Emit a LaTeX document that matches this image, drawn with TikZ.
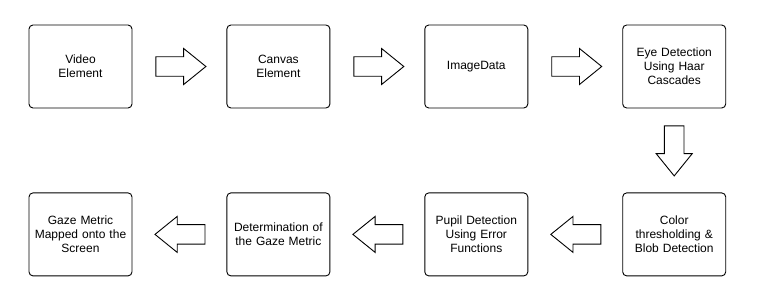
\documentclass[tikz,border=0pt]{standalone}
\usepackage{fontspec}
\setmainfont{Liberation Sans}
\usetikzlibrary{positioning,shapes.arrows}

\begin{document}
\begin{tikzpicture}[
      x=1pt, y=1pt,
      node distance=94pt,
      block/.style={rectangle, draw, line width=0.9pt, rounded corners=4pt, font=\fontsize{12}{14}\selectfont, minimum width=103pt, minimum height=83pt, text width=100pt, inner sep=0pt, align=center},
      flow/.style={single arrow, draw, line width=0.9pt, inner sep=8pt, minimum height=50pt, minimum width=36pt, single arrow tip angle=78}
    ]
    \useasboundingbox (0,0) rectangle (758,-299);
    % top row, left to right
    \node[block] (video) at (80.5,-66.5) {Video\\ Element};
    \node[block, right=of video] (canvas) {Canvas\\ Element};
    \node[block, right=of canvas] (imgdata) {ImageData};
    \node[block, right=of imgdata] (eyes) {Eye Detection\\ Using Haar\\ Cascades};
    % bottom row, right to left
    \node[block, below=84pt of eyes] (blob) {Color\\ thresholding \&\\ Blob Detection};
    \node[block, left=of blob] (pupil) {Pupil Detection\\ Using Error\\ Functions};
    \node[block, left=of pupil] (metric) {Determination of\\ the Gaze Metric};
    \node[block, left=of metric] (screen) {Gaze Metric\\ Mapped onto the\\ Screen};
    % hollow block arrows between the steps
    \node[flow, right=23pt of video] (a1) {};
    \node[flow, right=23pt of canvas] (a2) {};
    \node[flow, right=23pt of imgdata] (a3) {};
    \node[flow, shape border rotate=270, below=17pt of eyes] (a4) {};
    \node[flow, shape border rotate=180, left=21pt of blob] (a5) {};
    \node[flow, shape border rotate=180, left=21pt of pupil] (a6) {};
    \node[flow, shape border rotate=180, left=21pt of metric] (a7) {};
  \end{tikzpicture}
\end{document}
